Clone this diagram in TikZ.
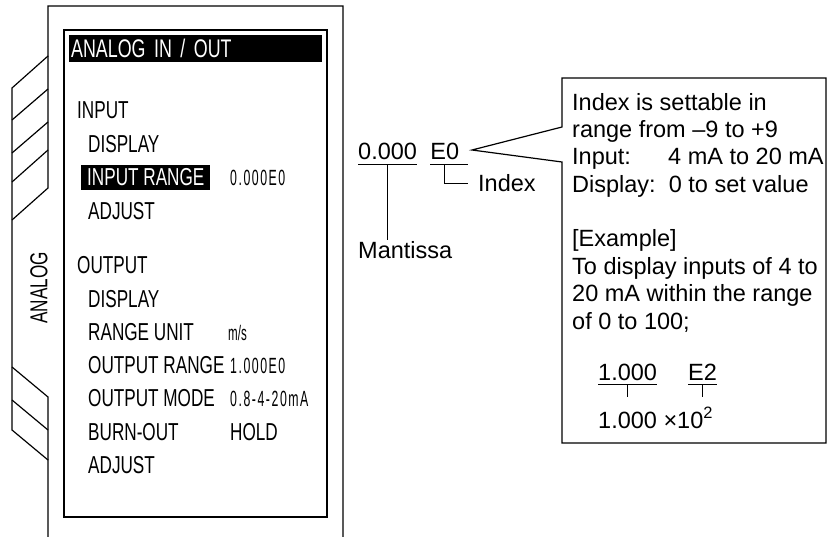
\documentclass[tikz,border=0pt]{standalone}
\usepackage{fontspec}
\setmainfont{Liberation Sans}
\newfontfamily\menufont[FakeStretch=0.7]{Liberation Sans}
\newfontfamily\valfont[FakeStretch=0.56,LetterSpace=7]{Liberation Sans}
\newfontfamily\unitfont[FakeStretch=0.55]{Liberation Sans}
\usetikzlibrary{positioning}
\tikzset{
  menu/.style={font=\menufont\fontsize{24.5}{28}\selectfont, anchor=base west, inner sep=0pt},
  value/.style={font=\valfont\fontsize{22}{26}\selectfont, anchor=base west, inner sep=0pt},
  num/.style={font=\fontsize{23.5}{27.4}\selectfont, inner xsep=0pt, inner ysep=4pt},
  frame/.style={line width=1.2pt},
  lead/.style={line width=0.8pt}
}

\begin{document}
\begin{tikzpicture}[x=1pt, y=-1pt]
    \useasboundingbox (0,0) rectangle (827,537);

    % Karte mit Reitern links
    \draw[frame] (48,537) -- (48,460) -- (12,430) -- (12,88) -- (48,56) -- (48,6) -- (343,6) -- (343,537);
    \draw[frame] (48,56) -- (48,188) -- (12,220);
    \draw[frame] (48,89) -- (12,120);
    \draw[frame] (48,122) -- (12,153);
    \draw[frame] (48,150) -- (12,182);
    \draw[frame] (12,367) -- (48,397) -- (48,460);
    \draw[frame] (12,400) -- (48,430);
    \node[menu, anchor=center, rotate=90] (tab) at (39,288) {ANALOG};

    % Anzeige
    \draw[frame] (64,30) rectangle (327,517);
    \node[menu, font=\menufont\fontsize{25.5}{28}\selectfont, anchor=north west, fill=black, text=white,
          inner xsep=2pt, text width=249pt, minimum height=27pt, text height=18pt, text depth=0pt] (title) at (69,35) {ANALOG IN / OUT};

    \node[menu] (in)    at (77,119)    {INPUT};
    \node[menu] (indsp) at (88,152.5)  {DISPLAY};
    \node[menu, fill=black, text=white, inner xsep=6pt, inner ysep=3.5pt] (inrng) at (81,186) {INPUT RANGE};
    \node[menu] (inadj) at (88,219.5)  {ADJUST};
    \node[menu] (out)   at (77,274)    {OUTPUT};
    \node[menu] (odsp)  at (88,307)    {DISPLAY};
    \node[menu] (ounit) at (88,340)    {RANGE UNIT};
    \node[menu] (orng)  at (88,373.5)  {OUTPUT RANGE};
    \node[menu] (omode) at (88,406.5)  {OUTPUT MODE};
    \node[menu] (oburn) at (88,440)    {BURN-OUT};
    \node[menu] (oadj)  at (88,473)    {ADJUST};

    % Werte
    \node[value] (inrngv) at (230,0 |- inrng.base) {0.000E0};
    \node[value, font=\unitfont\fontsize{21}{24}\selectfont] (ounitv) at (228,0 |- ounit.base) {m/s};
    \node[value] (orngv)  at (230,0 |- orng.base)  {1.000E0};
    \node[value] (omodev) at (230,0 |- omode.base) {0.8-4-20mA};
    \node[menu]  (oburnv) at (230,0 |- oburn.base) {HOLD};

    % Mantisse und Index
    \node[num, anchor=base west] (mant) at (358,160) {0.000};
    \node[num, right=13pt of mant] (e0) {E0};
    \draw[lead] (mant.south west) -- (mant.south east);
    \draw[lead] (e0.south west) -- ++(38,0);
    \node[num, anchor=west, inner xsep=10pt] (index) at (468,183) {Index};
    \draw[lead] (e0.south) |- (index.west);
    \node[num, anchor=base west, inner ysep=2pt] (mlbl) at (358,259) {Mantissa};
    \draw[lead] (mant.south) -- (mant.south |- mlbl.north);

    % Erklaerung
    \coordinate (tip)  at (472,150);
    \coordinate (cnw)  at (562,78);
    \coordinate (cse)  at (826,443);
    \coordinate (cin)  at (562,127);
    \coordinate (cout) at (562,162);
    \draw[frame] (tip) -- (cin) -- (cnw) -| (cse) -| (cout) -- cycle;
    \node[num, anchor=base west, inner sep=0pt, align=left] (note) at (572,329.2)
        {Index is settable in\\
         range from –9 to +9\\
         \makebox[96pt][l]{Input:}4 mA to 20 mA\\
         Display:\ \ 0 to set value\\[27.4pt]
         {[Example]}\\
         To display inputs of 4 to\\
         20 mA within the range\\
         of 0 to 100;};

    % Beispiel
    \node[num, anchor=base west] (exm) at (598,380) {1.000};
    \node[num, anchor=base west] (exe) at (688,380) {E2};
    \draw[lead] (exm.south west) -- (exm.south east);
    \draw[lead] (exe.south west) -- (exe.south east);
    \node[num, anchor=base west] (exres) at (598,428) {1.000 ×10\textsuperscript{2}};
    \draw[lead] (exm.south) -- ++(0,13);
    \draw[lead] (exe.south) -- ++(0,13);
\end{tikzpicture}
\end{document}
